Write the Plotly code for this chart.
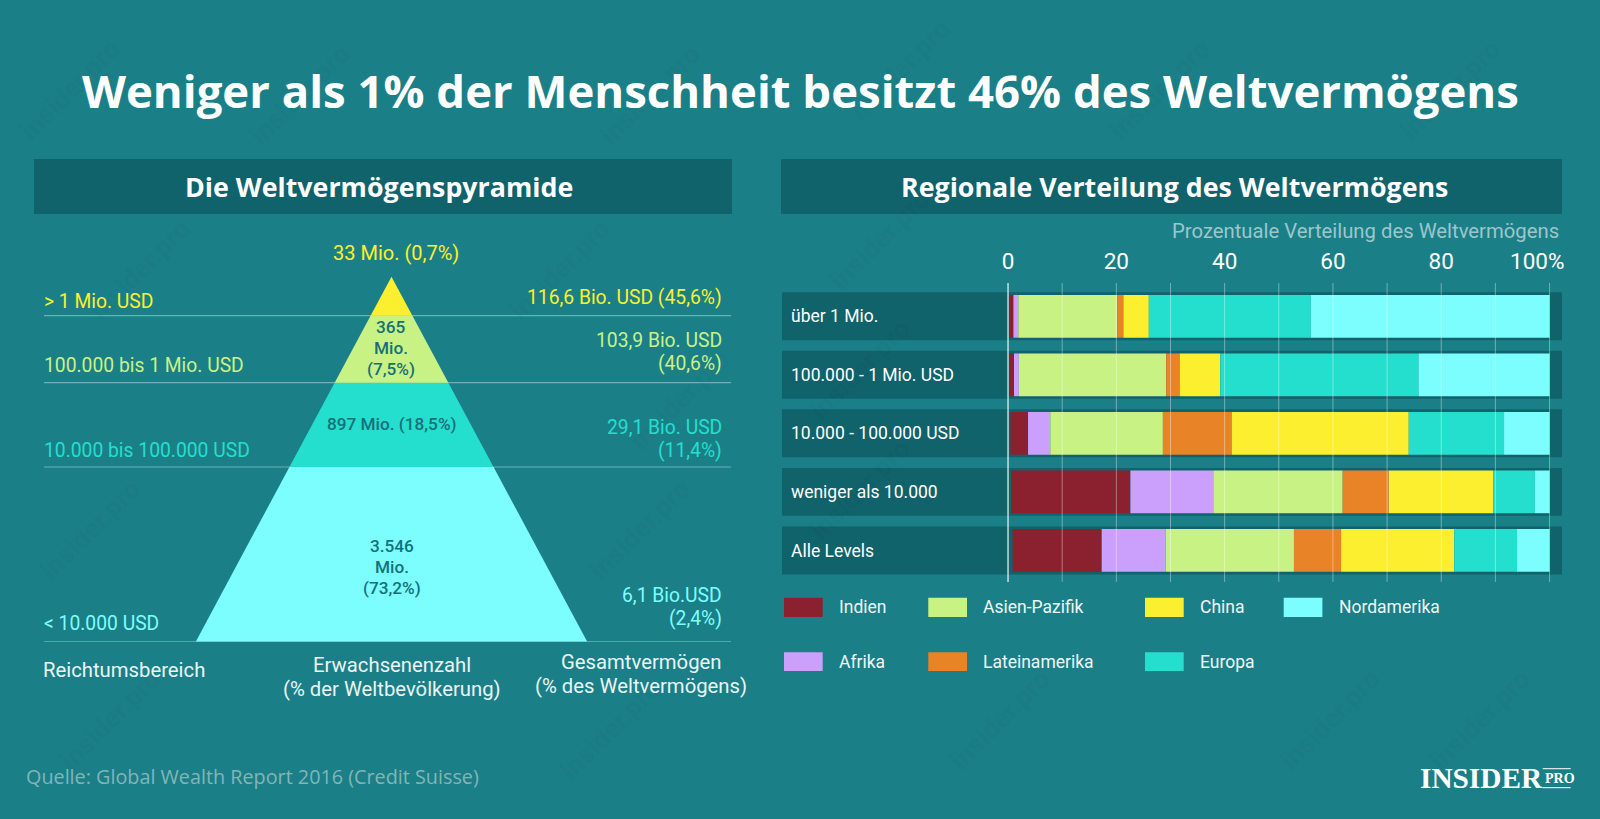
import plotly.graph_objects as go

W, H = 1600, 819
BG = "#1B7F87"
DARK = "#10626B"
SANS = "Roboto"
HEAD = "Open Sans"

# right chart
levels = ["über 1 Mio.", "100.000 - 1 Mio. USD", "10.000 - 100.000 USD", "weniger als 10.000", "Alle Levels"]
row_start = [0.2, 0.2, 0.45, 0.55, 0.85]
regions = ["Indien", "Afrika", "Asien-Pazifik", "Lateinamerika", "China", "Europa", "Nordamerika"]
indien = [0.8, 0.9, 3.25, 22.05, 16.45]
afrika = [0.9, 0.9, 4.1, 15.3, 11.8]
asien = [18.3, 27.2, 20.8, 23.9, 23.7]
latam = [1.1, 2.5, 12.7, 8.5, 8.7]
china = [4.7, 7.5, 32.7, 19.3, 20.9]
europa = [29.9, 36.6, 17.6, 7.7, 11.6]
nordamerika = [44.1, 24.2, 8.4, 2.7, 6.0]
region_colors = ["#8B212E", "#CBA0FD", "#C9F285", "#E98327", "#FBEF2F", "#24DFCD", "#7CFEFF"]
x_ticks = [0, 20, 40, 60, 80]
x_grid = [10, 20, 30, 40, 50, 60, 70, 80, 90, 100]

# pyramid, bottom tier first
tier_tops = [174.7, 259, 326, 365]
tier_colors = ["#7CFEFF", "#24DFCD", "#C9F285", "#FBEF2F"]


def px(x):
    return x / W


def py(y):
    return 1 - y / H


fig = go.Figure()

series = [indien, afrika, asien, latam, china, europa, nordamerika]
left = list(row_start)
for i, name in enumerate(regions):
    fig.add_trace(go.Bar(
        y=levels, x=series[i], base=list(left), name=name, orientation="h", width=0.73,
        marker=dict(color=region_colors[i], line=dict(width=0)),
        showlegend=False, xaxis="x", yaxis="y",
    ))
    left = [a + b for a, b in zip(left, series[i])]

# tier lines first so the pyramid sits on top of them
line_x = [-347.5, 339.5]
for level in [0] + tier_tops[:-1]:
    fig.add_trace(go.Scatter(
        x=line_x, y=[level, level], mode="lines", cliponaxis=False,
        line=dict(color="rgba(255,255,255,0.38)", width=1.2),
        showlegend=False, hoverinfo="skip", xaxis="x2", yaxis="y2",
    ))

half_base = 195.75
apex = tier_tops[-1]
low = 0
for top, color in zip(tier_tops, tier_colors):
    wl = half_base * (1 - low / apex)
    wt = half_base * (1 - top / apex)
    fig.add_trace(go.Scatter(
        x=[-wl, wl, wt, -wt, -wl], y=[low, low, top, top, low],
        mode="lines", fill="toself", fillcolor=color, line=dict(width=0),
        cliponaxis=False, showlegend=False, hoverinfo="skip", xaxis="x2", yaxis="y2",
    ))
    low = top

shapes = []
annotations = []


def text(x, y, s, size=19.3, color="white", anchor="center", family=SANS, weight=400, angle=0):
    annotations.append(dict(
        xref="paper", yref="paper", x=px(x), y=py(y), text=s, showarrow=False,
        xanchor=anchor, yanchor="middle", borderpad=0, textangle=angle, align=anchor,
        font=dict(family=family, size=size, color=color, weight=weight),
    ))


def box(x0, y0, x1, y1, color):
    shapes.append(dict(
        type="rect", xref="paper", yref="paper", x0=px(x0), x1=px(x1), y0=py(y0), y1=py(y1),
        fillcolor=color, line=dict(width=0), layer="below",
    ))


# watermark, kept off the coloured marks
for wx, wy in [(70, 90), (300, 95), (140, 270), (560, 270), (90, 530), (110, 720), (640, 530),
               (650, 95), (900, 70), (880, 240), (1160, 90), (1450, 90), (1330, 720), (1000, 720),
               (860, 490), (860, 370), (680, 400), (1480, 720), (610, 730)]:
    text(wx, wy, "insider.pro", size=27, color="rgba(0,55,65,0.05)", angle=-45, weight=700)

# headers
box(34, 159, 732, 214, DARK)
box(781, 159, 1562, 214, DARK)
text(800, 90, "Weniger als 1% der Menschheit besitzt 46% des Weltvermögens", size=45.5, family=HEAD, weight=700)
text(371.5 + 7.5, 187, "Die Weltvermögenspyramide", size=26.8, family=HEAD, weight=700)
text(1174.5, 187, "Regionale Verteilung des Weltvermögens", size=26.8, family=HEAD, weight=700)
text(1560, 231, "Prozentuale Verteilung des Weltvermögens", size=20.3, color="#9CC7CA", anchor="right")

# pyramid labels
YEL, GRN, TEA, CYA = "#FBEF2F", "#C9F285", "#24DFCD", "#7CFEFF"
text(43, 301, "&gt; 1 Mio. USD", color=YEL, anchor="left")
text(43, 365, "100.000 bis 1 Mio. USD", color=GRN, anchor="left")
text(43, 450, "10.000 bis 100.000 USD", color=TEA, anchor="left")
text(43, 623, "&lt; 10.000 USD", color=CYA, anchor="left")
text(723, 297, "116,6 Bio. USD (45,6%)", color=YEL, anchor="right")
text(723, 340, "103,9 Bio. USD", color=GRN, anchor="right")
text(723, 363, "(40,6%)", color=GRN, anchor="right")
text(723, 427, "29,1 Bio. USD", color=TEA, anchor="right")
text(723, 450, "(11,4%)", color=TEA, anchor="right")
text(723, 595, "6,1 Bio.USD", color=CYA, anchor="right")
text(723, 618, "(2,4%)", color=CYA, anchor="right")
text(396, 253, "33 Mio. (0,7%)", size=20, color=YEL)
MID = "#15707A"
for line, ly in zip(["365", "Mio.", "(7,5%)"], [327, 348, 369]):
    text(390.6, ly, line, size=17.2, color=MID, weight=500)
text(392.4, 424, "897 Mio. (18,5%)", size=17.2, color=MID, weight=500)
for line, ly in zip(["3.546", "Mio.", "(73,2%)"], [545.7, 566.7, 588]):
    text(392.4, ly, line, size=17.2, color=MID, weight=500)
text(42, 670, "Reichtumsbereich", size=20.3, color="#EAF5F5", anchor="left")
text(391.5, 665, "Erwachsenenzahl", size=20.3, color="#EAF5F5")
text(391.5, 689, "(% der Weltbevölkerung)", size=20.3, color="#EAF5F5")
text(641, 662, "Gesamtvermögen", size=20.3, color="#EAF5F5")
text(641, 686, "(% des Weltvermögens)", size=20.3, color="#EAF5F5")

# row bands behind the bars
for i in range(len(levels)):
    shapes.append(dict(
        type="rect", xref="paper", yref="y", x0=px(782), x1=px(1562), y0=i - 0.41, y1=i + 0.41,
        fillcolor=DARK, line=dict(width=0), layer="below",
    ))

# gridlines run over the bars
for v in x_grid:
    shapes.append(dict(
        type="line", xref="x", yref="y domain", x0=v, x1=v, y0=0, y1=1,
        line=dict(color="rgba(255,255,255,0.38)", width=1), layer="above",
    ))
shapes.append(dict(
    type="line", xref="x", yref="y domain", x0=0, x1=0, y0=0, y1=1,
    line=dict(color="rgba(255,255,255,0.95)", width=1.2), layer="above",
))
annotations.append(dict(
    xref="x", yref="paper", x=100, y=py(261), text="100%", showarrow=False, xanchor="right",
    xshift=15, yanchor="middle", borderpad=0, font=dict(family=SANS, size=22.5, color="white"),
))

# legend, column by column
legend_x = [(784, 838), (928.3, 982), (1145, 1199), (1283.7, 1338)]
legend_y = [(597.7, 617, 606.7), (652.3, 671, 661.7)]
for i, name in enumerate(regions):
    sx, tx = legend_x[i // 2]
    y0, y1, ty = legend_y[i % 2]
    box(sx, y0, sx + 38.7, y1, region_colors[i])
    text(tx, ty, name, size=17.5, color="#EEF7F7", anchor="left")

# footer
text(24.5, 776, "Quelle: Global Wealth Report 2016 (Credit Suisse)", size=19.8, family=HEAD, color="#82B5B8", anchor="left")
text(1419, 778, "INSIDER", size=29.3, family="Liberation Serif", weight=700, anchor="left")
text(1543.5, 778, "PRO", size=14, family="Liberation Serif", weight=700, anchor="left")
for ly in [768.7, 787.7]:
    shapes.append(dict(
        type="line", xref="paper", yref="paper", x0=px(1542.7), x1=px(1570.7), y0=py(ly), y1=py(ly),
        line=dict(color="white", width=1),
    ))

hidden = dict(visible=False, fixedrange=True)
fig.update_layout(
    width=W, height=H, margin=dict(l=0, r=0, t=0, b=0),
    paper_bgcolor=BG, plot_bgcolor="rgba(0,0,0,0)",
    barmode="overlay", showlegend=False,
    shapes=shapes, annotations=annotations,
    xaxis=dict(
        domain=[px(782), px(1562)], range=[-41.74, 102.3], side="top", anchor="y",
        tickvals=x_ticks, ticktext=[str(v) for v in x_ticks], ticks="", ticklabelstandoff=9,
        showgrid=False, zeroline=False, showline=False, fixedrange=True,
        tickfont=dict(family=SANS, size=22.5, color="white"),
    ),
    yaxis=dict(
        domain=[py(582), py(283)], range=[4.54, -0.569], anchor="x", type="category",
        categoryorder="array", categoryarray=levels, ticks="", ticklabelposition="inside",
        ticklabelstandoff=6, showgrid=False, zeroline=False, showline=False, fixedrange=True,
        tickfont=dict(family=SANS, size=17.5, color="white"),
    ),
    xaxis2=dict(domain=[px(44), px(731)], range=line_x, anchor="y2", **hidden),
    yaxis2=dict(domain=[py(641.7), py(276.7)], range=[0, apex], anchor="x2", **hidden),
)

fig.write_html(
    "out.html",
    config=dict(displayModeBar=False),
    post_script="document.body.style.margin='0';document.body.style.background='%s';" % BG,
)
